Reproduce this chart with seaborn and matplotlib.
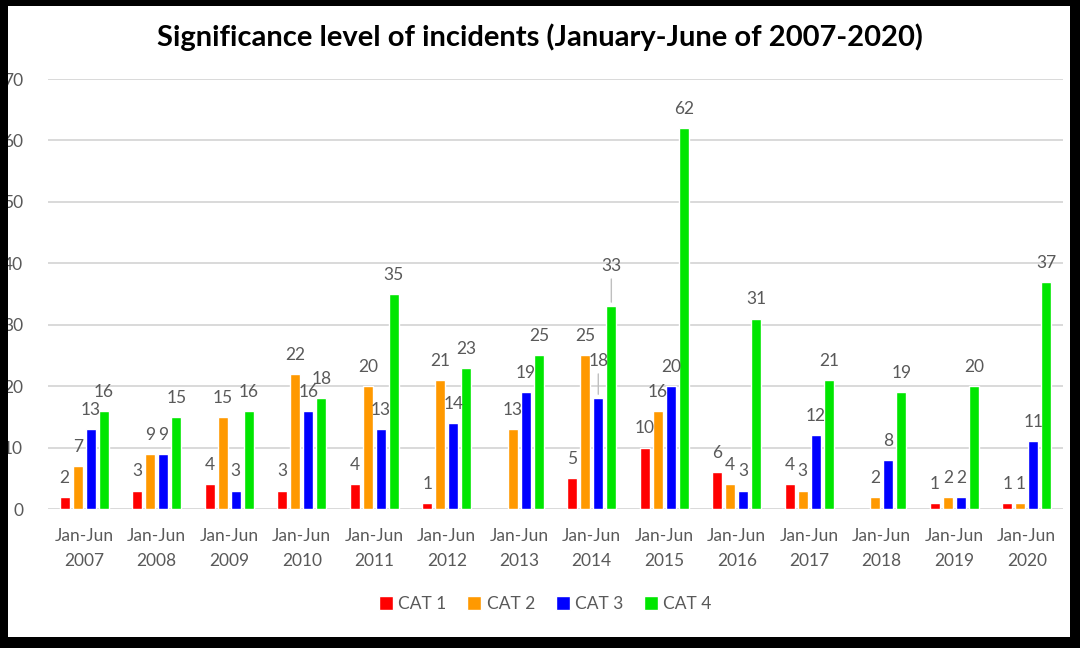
import numpy as np
import pandas as pd
import matplotlib
matplotlib.use("Agg")
import matplotlib.pyplot as plt
from matplotlib.patches import Rectangle
import seaborn as sns

# ---- data ----
years = ["2007", "2008", "2009", "2010", "2011", "2012", "2013",
         "2014", "2015", "2016", "2017", "2018", "2019", "2020"]
periods = [f"Jan-Jun\n{y}" for y in years]
categories = ["CAT 1", "CAT 2", "CAT 3", "CAT 4"]
cat1 = [2, 3, 4, 3, 4, 1, np.nan, 5, 10, 6, 4, np.nan, 1, 1]
cat2 = [7, 9, 15, 22, 20, 21, 13, 25, 16, 4, 3, 2, 2, 1]
cat3 = [13, 9, 3, 16, 13, 14, 19, 18, 20, 3, 12, 8, 2, 11]
cat4 = [16, 15, 16, 18, 35, 23, 25, 33, 62, 31, 21, 19, 20, 37]
colors = ["#ff0000", "#ff9900", "#0000ff", "#00e600"]
title = "Significance level of incidents (January-June of 2007-2020)"

rows = []
for cat, vals in zip(categories, [cat1, cat2, cat3, cat4]):
    for p, v in zip(periods, vals):
        rows.append({"period": p, "category": cat, "count": v})
df = pd.DataFrame(rows)

sns.set_theme(style="white")
plt.rcParams["font.family"] = ["Lato", "DejaVu Sans"]

W, H = 1080, 648
fig = plt.figure(figsize=(W / 100, H / 100), dpi=100)
fig.patch.set_facecolor("white")
ax = fig.add_axes([48 / W, 1 - 509 / H, (1063 - 48) / W, (509 - 79) / H])

sns.barplot(data=df.dropna(), x="period", y="count", hue="category",
            hue_order=categories, order=periods, palette=colors,
            saturation=1, width=0.72, gap=0.22, ax=ax, legend=True)

ax.set_ylim(0, 70)
ax.set_yticks(range(0, 71, 10))
ax.set_xlim(-0.5, len(periods) - 0.5)
ax.grid(axis="y", color="#d9d9d9", linewidth=1.4)
ax.set_axisbelow(True)
for s in ax.spines.values():
    s.set_visible(False)
ax.set_xlabel("")
ax.set_ylabel("")
gray = "#595959"
ax.tick_params(axis="y", length=0, pad=18, labelsize=12.5, labelcolor=gray)
ax.tick_params(axis="x", length=0, pad=14, labelsize=12.5, labelcolor=gray)
for t in ax.get_xticklabels():
    t.set_linespacing(1.65)

# value labels
leader = {("2014", "CAT 3"): 21, ("2014", "CAT 4"): 23}
for cat, cont in zip(categories, ax.containers):
    for bar in cont:
        h = bar.get_height()
        if np.isnan(h):
            continue
        xc = bar.get_x() + bar.get_width() / 2
        idx = int(round(xc))
        key = (years[idx], cat)
        off = leader.get(key, 8)
        kw = {}
        if key in leader:
            kw["arrowprops"] = dict(arrowstyle="-", color="#bfbfbf", lw=1,
                                    shrinkA=1, shrinkB=3)
        ax.annotate(f"{int(h)}", xy=(xc, h), xytext=(0, off),
                    textcoords="offset points", ha="center", va="bottom",
                    fontsize=12.5, color=gray, **kw)

leg = ax.legend(loc="center", bbox_to_anchor=(0.49, -(604 - 509) / (509 - 79)),
                ncol=4, frameon=False, fontsize=12.5, handlelength=0.8,
                handleheight=0.8, handletextpad=0.3, columnspacing=1.2)
for t in leg.get_texts():
    t.set_color(gray)

fig.suptitle(title, x=0.5, y=1 - 37 / H, va="center", fontsize=21,
             fontweight="bold", color="black")

# black screenshot frame
frame = [(0, 0, 8 / W, 1), (1070 / W, 0, 1 - 1070 / W, 1),
         (0, 0, 1, 11 / H), (0, 1 - 6 / H, 1, 6 / H)]
for (x0, y0, w, h) in frame:
    fig.add_artist(Rectangle((x0, y0), w, h, transform=fig.transFigure,
                             facecolor="black", edgecolor="none", zorder=10))

fig.savefig("out.png", dpi=100)
